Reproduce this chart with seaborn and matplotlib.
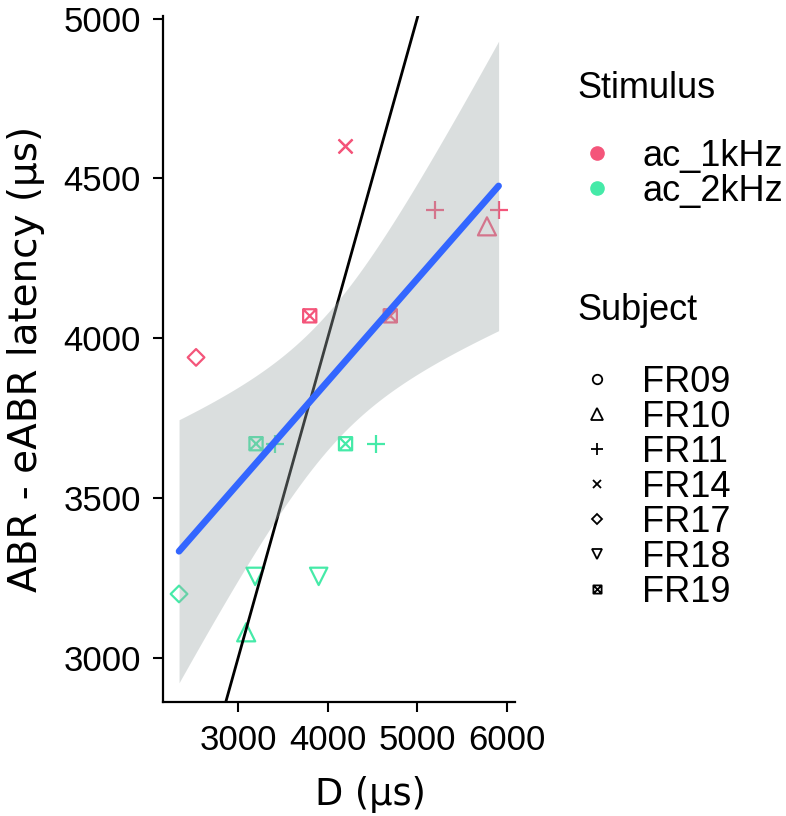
import numpy as np
import pandas as pd
import matplotlib
matplotlib.use("Agg")
import matplotlib.pyplot as plt
from matplotlib.path import Path
from matplotlib.lines import Line2D
import seaborn as sns

# values
# (the FR14 1 kHz point appears twice: two measurements sit on the same spot,
#  which is what pulls the fitted line up to where the reference has it)
stimulus = ["ac_1kHz"] * 8 + ["ac_2kHz"] * 8
subject = ["FR14", "FR14", "FR11", "FR11", "FR10", "FR19", "FR19", "FR17",
           "FR19", "FR11", "FR19", "FR11", "FR18", "FR18", "FR17", "FR10"]
d_us = [4200, 4200, 5200, 5910, 5780, 3800, 4700, 2530,
        3200, 3410, 4200, 4540, 3190, 3900, 2340, 3090]
latency_us = [4600, 4600, 4400, 4400, 4350, 4070, 4070, 3940,
              3670, 3670, 3670, 3670, 3255, 3255, 3200, 3080]

stim_levels = ["ac_1kHz", "ac_2kHz"]
subject_levels = ["FR09", "FR10", "FR11", "FR14", "FR17", "FR18", "FR19"]
x_ticks = [3000, 4000, 5000, 6000]
y_ticks = [3000, 3500, 4000, 4500, 5000]

df = pd.DataFrame({"Stimulus": stimulus, "Subject": subject,
                   "D": d_us, "latency": latency_us})

palette = {"ac_1kHz": "#F4557A", "ac_2kHz": "#45EAA8"}

# square with a cross inside (ggplot shape 7)
boxcross = Path([(-1, -1), (1, -1), (1, 1), (-1, 1), (-1, -1),
                 (-1, -1), (1, 1), (-1, 1), (1, -1)],
                [Path.MOVETO, Path.LINETO, Path.LINETO, Path.LINETO, Path.CLOSEPOLY,
                 Path.MOVETO, Path.LINETO, Path.MOVETO, Path.LINETO])

markers = {"FR09": "o", "FR10": "^", "FR11": "+", "FR14": "x",
           "FR17": "D", "FR18": "v", "FR19": boxcross}
msize = {"FR09": 11, "FR10": 13, "FR11": 13, "FR14": 10,
         "FR17": 8.5, "FR18": 12.5, "FR19": 9.5}

sns.set_style("ticks")
plt.rcParams["font.family"] = ["Liberation Sans", "DejaVu Sans"]
plt.rcParams["text.color"] = "black"
plt.rcParams["axes.labelcolor"] = "black"
plt.rcParams["xtick.color"] = "black"
plt.rcParams["ytick.color"] = "black"

fig = plt.figure(figsize=(7.86, 8.16), dpi=100)
ax = fig.add_axes([0.2074, 0.1397, 0.4478, 0.8407])

# points (drawn first, ggplot puts the smooth on top)
for subj in subject_levels:
    sub = df[df["Subject"] == subj]
    if sub.empty:
        continue
    cols = [palette[s] for s in sub["Stimulus"]]
    if markers[subj] in ("+", "x"):
        ax.scatter(sub["D"], sub["latency"], marker=markers[subj],
                   s=msize[subj] ** 2, c=cols, linewidths=1.6, zorder=1)
    else:
        ax.scatter(sub["D"], sub["latency"], marker=markers[subj],
                   s=msize[subj] ** 2, facecolors="none", edgecolors=cols,
                   linewidths=1.6, zorder=1)

# identity line
ax.axline((3000, 3000), slope=1, color="black", lw=2.0, zorder=1.5)

# linear fit with analytic 95% band, like geom_smooth(method = "lm")
x = df["D"].to_numpy(float)
y = df["latency"].to_numpy(float)
n = len(x)
slope, intercept = np.polyfit(x, y, 1)
grid = np.linspace(x.min(), x.max(), 200)
resid = y - (slope * x + intercept)
s_err = np.sqrt(np.sum(resid ** 2) / (n - 2))
se = s_err * np.sqrt(1 / n + (grid - x.mean()) ** 2 / np.sum((x - x.mean()) ** 2))
t_crit = 2.145  # t(0.975, df = 14)
fit = slope * grid + intercept
ax.fill_between(grid, fit - t_crit * se, fit + t_crit * se,
                color="#A0AAAA", alpha=0.38, lw=0, zorder=2)

sns.regplot(data=df, x="D", y="latency", ax=ax, scatter=False, ci=None,
            color="#3366FF", line_kws={"lw": 4.8, "zorder": 3})

ax.set_xlim(2161, 6093)
ax.set_ylim(2862, 5008)
ax.set_xticks(x_ticks)
ax.set_yticks(y_ticks)
ax.tick_params(labelsize=25, length=7, width=1.5, pad=9, color="black")
for side in ["top", "right"]:
    ax.spines[side].set_visible(False)
for side in ["left", "bottom"]:
    ax.spines[side].set_linewidth(1.6)
    ax.spines[side].set_color("black")

ax.set_xlabel("D (µs)", fontsize=26.5, family="DejaVu Sans")
ax.set_ylabel("ABR - eABR latency (µs)", fontsize=28, family="DejaVu Sans")
ax.xaxis.set_label_coords(0.59, -0.108)
ax.yaxis.set_label_coords(-0.335, 0.5)

# legends
stim_handles = [Line2D([], [], ls="", marker="o", ms=9.5, color=palette[s],
                       label=s) for s in stim_levels]
subj_handles = [Line2D([], [], ls="", marker=markers[s], ms=msize[s] * 0.62,
                       mfc="none", mec="black", mew=1.3, label=s)
                for s in subject_levels]

leg_kw = dict(frameon=False, fontsize=26, borderpad=0, borderaxespad=0,
              handlelength=1.0, handletextpad=0.75, labelspacing=0.0,
              loc="upper left")
fig.text(0.735, 0.892, "Stimulus", fontsize=26, va="center", ha="left")
leg1 = fig.legend(handles=stim_handles, bbox_to_anchor=(0.737, 0.830), **leg_kw)
fig.text(0.735, 0.619, "Subject", fontsize=26, va="center", ha="left")
leg2 = fig.legend(handles=subj_handles, bbox_to_anchor=(0.737, 0.553), **leg_kw)

fig.savefig("out.png", dpi=100)
